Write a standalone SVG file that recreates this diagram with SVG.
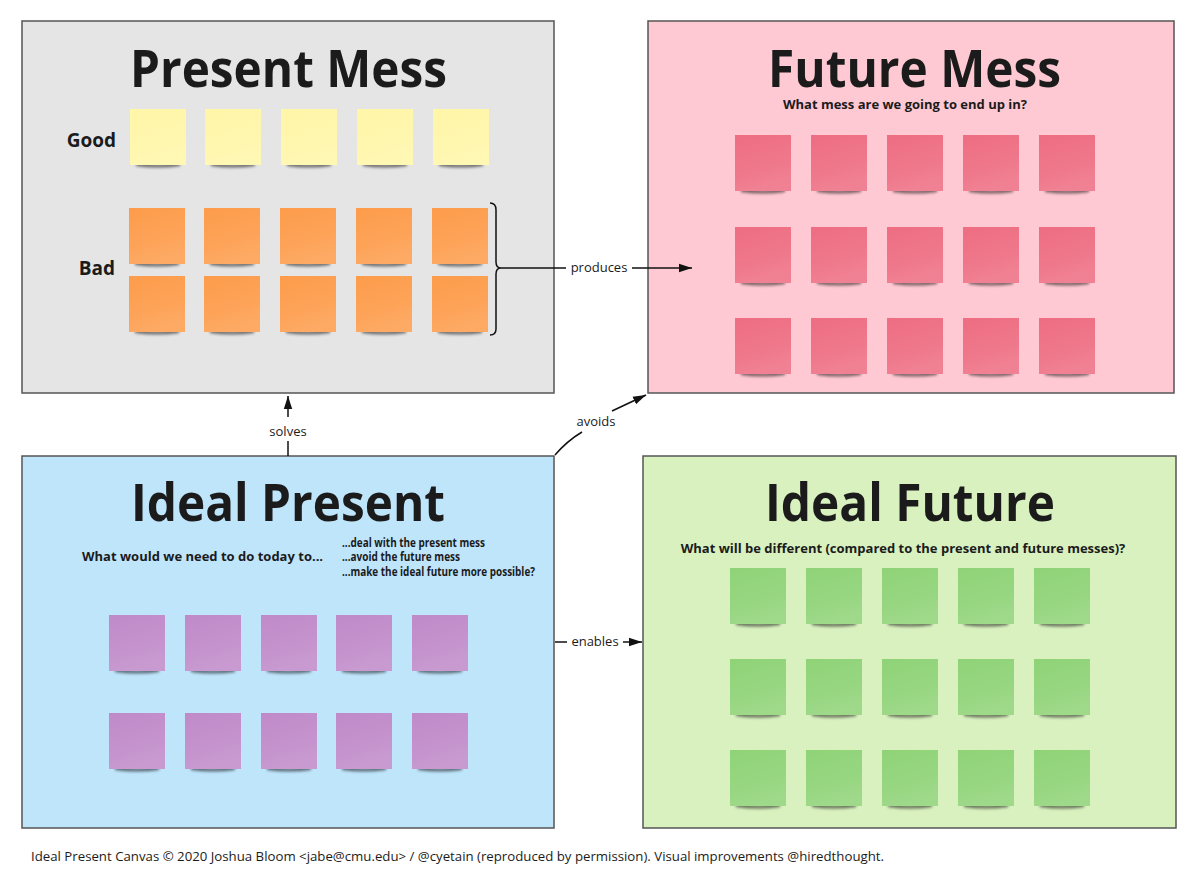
<svg xmlns="http://www.w3.org/2000/svg" xmlns:xlink="http://www.w3.org/1999/xlink" width="1200" height="880" viewBox="0 0 1200 880">
<style>
.panel{stroke:#555;stroke-width:1.5}
.title{font-family:"Open Sans","Liberation Sans",sans-serif;font-weight:700;font-size:52px;fill:#1b1b1b;text-anchor:middle}
.sub{font-family:"Open Sans","Liberation Sans",sans-serif;font-weight:700;font-size:13px;fill:#1b1b1b}
.lbl{font-family:"Open Sans","Liberation Sans",sans-serif;font-size:13px;fill:#1b1b1b}
.row{font-family:"Open Sans","Liberation Sans",sans-serif;font-weight:700;font-size:19px;fill:#1b1b1b}
.con{stroke:#111;stroke-width:1.5;fill:none}
.foot{font-family:"Open Sans","Liberation Sans",sans-serif;font-size:13.2px;fill:#1b1b1b}
</style>
<defs>
<filter id="blur" x="-20%" y="-100%" width="140%" height="300%"><feGaussianBlur stdDeviation="1.6"/></filter>
<linearGradient id="sheen" x1="0" y1="0" x2="0.3" y2="1">
<stop offset="0" stop-color="#fff" stop-opacity="0"/>
<stop offset="0.7" stop-color="#fff" stop-opacity="0.08"/>
<stop offset="1" stop-color="#fff" stop-opacity="0.14"/>
</linearGradient>
<symbol id="note" width="64" height="66" viewBox="0 0 64 66" overflow="visible">
<path d="M6 52 Q28 58.5 50 52 L50 57 Q28 60 6 57 Z" fill="#000" opacity="0.55" filter="url(#blur)"/>
<rect x="0" y="0" width="56" height="56" fill="currentColor"/>
<rect x="0" y="0" width="56" height="56" fill="url(#sheen)"/>
</symbol>
<marker id="arr" markerWidth="14" markerHeight="10" refX="13" refY="5" orient="auto" markerUnits="userSpaceOnUse">
<path d="M0 0.8 L13 5 L0 9.2 Z" fill="#111"/>
</marker>
</defs>
<rect width="1200" height="880" fill="#fff"/>

<g id="present-mess">
<rect class="panel" x="22" y="21" width="532" height="372" fill="#e5e5e5"/>
<text class="title" x="288.5" y="87" textLength="317" lengthAdjust="spacingAndGlyphs">Present Mess</text>
<text class="row" x="116" y="147" text-anchor="end">Good</text>
<text class="row" x="115" y="275" text-anchor="end">Bad</text>
<g color="#fff6a8">
<use xlink:href="#note" x="130" y="109"/><use xlink:href="#note" x="205" y="109"/><use xlink:href="#note" x="281" y="109"/><use xlink:href="#note" x="357" y="109"/><use xlink:href="#note" x="433" y="109"/>
</g>
<g color="#fd9c4b">
<use xlink:href="#note" x="129" y="208"/><use xlink:href="#note" x="204" y="208"/><use xlink:href="#note" x="280" y="208"/><use xlink:href="#note" x="356" y="208"/><use xlink:href="#note" x="432" y="208"/>
<use xlink:href="#note" x="129" y="276"/><use xlink:href="#note" x="204" y="276"/><use xlink:href="#note" x="280" y="276"/><use xlink:href="#note" x="356" y="276"/><use xlink:href="#note" x="432" y="276"/>
</g>
<path class="con" d="M490 203 Q496 203 496 210 L496 262 Q496 268 501 268 Q496 268 496 274 L496 329 Q496 335 490 335"/>
</g>

<g id="future-mess">
<rect class="panel" x="648" y="21" width="526" height="372" fill="#ffc9d3"/>
<text class="title" x="914.5" y="87" textLength="293" lengthAdjust="spacingAndGlyphs">Future Mess</text>
<text class="sub" x="905" y="109" text-anchor="middle">What mess are we going to end up in?</text>
<g color="#ee6d82">
<use xlink:href="#note" x="735" y="135"/><use xlink:href="#note" x="811" y="135"/><use xlink:href="#note" x="887" y="135"/><use xlink:href="#note" x="963" y="135"/><use xlink:href="#note" x="1039" y="135"/>
<use xlink:href="#note" x="735" y="227"/><use xlink:href="#note" x="811" y="227"/><use xlink:href="#note" x="887" y="227"/><use xlink:href="#note" x="963" y="227"/><use xlink:href="#note" x="1039" y="227"/>
<use xlink:href="#note" x="735" y="318"/><use xlink:href="#note" x="811" y="318"/><use xlink:href="#note" x="887" y="318"/><use xlink:href="#note" x="963" y="318"/><use xlink:href="#note" x="1039" y="318"/>
</g>
</g>

<g id="ideal-present">
<rect class="panel" x="22" y="456" width="532" height="372" fill="#bfe5fb"/>
<text class="title" x="288" y="521" textLength="314" lengthAdjust="spacingAndGlyphs">Ideal Present</text>
<text class="sub" x="82" y="561" font-size="14.3">What would we need to do today to...</text>
<text class="sub" x="342" y="547" font-size="9.6" textLength="143" lengthAdjust="spacingAndGlyphs">...deal with the present mess</text>
<text class="sub" x="342" y="561" font-size="9.6" textLength="118" lengthAdjust="spacingAndGlyphs">...avoid the future mess</text>
<text class="sub" x="342" y="576" font-size="9.6" textLength="193" lengthAdjust="spacingAndGlyphs">...make the ideal future more possible?</text>
<g color="#c08ac9">
<use xlink:href="#note" x="109" y="615"/><use xlink:href="#note" x="185" y="615"/><use xlink:href="#note" x="261" y="615"/><use xlink:href="#note" x="336" y="615"/><use xlink:href="#note" x="412" y="615"/>
<use xlink:href="#note" x="109" y="713"/><use xlink:href="#note" x="185" y="713"/><use xlink:href="#note" x="261" y="713"/><use xlink:href="#note" x="336" y="713"/><use xlink:href="#note" x="412" y="713"/>
</g>
</g>

<g id="ideal-future">
<rect class="panel" x="643" y="456" width="533" height="372" fill="#d8f1bf"/>
<text class="title" x="910" y="521" textLength="290" lengthAdjust="spacingAndGlyphs">Ideal Future</text>
<text class="sub" x="903" y="553" text-anchor="middle">What will be different (compared to the present and future messes)?</text>
<g color="#8fd377">
<use xlink:href="#note" x="730" y="568"/><use xlink:href="#note" x="806" y="568"/><use xlink:href="#note" x="882" y="568"/><use xlink:href="#note" x="958" y="568"/><use xlink:href="#note" x="1034" y="568"/>
<use xlink:href="#note" x="730" y="659"/><use xlink:href="#note" x="806" y="659"/><use xlink:href="#note" x="882" y="659"/><use xlink:href="#note" x="958" y="659"/><use xlink:href="#note" x="1034" y="659"/>
<use xlink:href="#note" x="730" y="750"/><use xlink:href="#note" x="806" y="750"/><use xlink:href="#note" x="882" y="750"/><use xlink:href="#note" x="958" y="750"/><use xlink:href="#note" x="1034" y="750"/>
</g>
</g>

<g id="connectors">
<path class="con" d="M501 268 L566 268"/>
<path class="con" d="M632 268 L692 268" marker-end="url(#arr)"/>
<text class="lbl" x="599" y="272" text-anchor="middle">produces</text>
<path class="con" d="M288 456 L288 441"/>
<path class="con" d="M288 417 L288 396" marker-end="url(#arr)"/>
<text class="lbl" x="288" y="436" text-anchor="middle">solves</text>
<path class="con" d="M555 455 Q567 441 582 432"/>
<path class="con" d="M612 411 L646 395" marker-end="url(#arr)"/>
<text class="lbl" x="596" y="426" text-anchor="middle">avoids</text>
<path class="con" d="M555 642 L567 642"/>
<path class="con" d="M623 642 L642 642" marker-end="url(#arr)"/>
<text class="lbl" x="595" y="646" text-anchor="middle">enables</text>
</g>

<text class="foot" x="31" y="861" textLength="853" lengthAdjust="spacingAndGlyphs">Ideal Present Canvas © 2020 Joshua Bloom &lt;jabe@cmu.edu&gt; / @cyetain (reproduced by permission). Visual improvements @hiredthought.</text>
</svg>
